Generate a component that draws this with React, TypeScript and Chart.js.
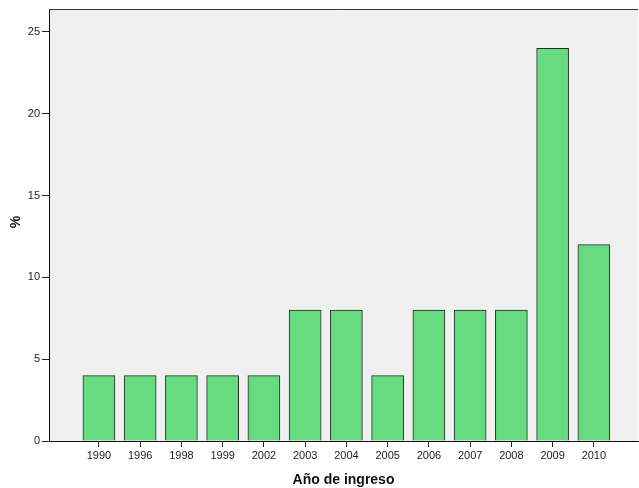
import React, { useEffect, useRef } from "react";
import { Chart, registerables } from "chart.js";

Chart.register(...registerables);

const categories = ["1990", "1996", "1998", "1999", "2002", "2003", "2004", "2005", "2006", "2007", "2008", "2009", "2010"];
const percentages = [4, 4, 4, 4, 4, 8, 8, 4, 8, 8, 8, 24, 12];
const yTicks = [0, 5, 10, 15, 20, 25];
const xTitle = "Año de ingreso";
const yTitle = "%";

const FONT = "'Liberation Sans', Arial, sans-serif";

const bgPlugin = {
  id: "plotBg",
  beforeDraw(chart: any) {
    const { ctx, chartArea } = chart;
    ctx.save();
    ctx.fillStyle = "#f0f0f0";
    ctx.fillRect(chartArea.left, chartArea.top, chartArea.right - chartArea.left, chartArea.bottom - chartArea.top);
    ctx.restore();
  },
  afterDraw(chart: any) {
    const { ctx, chartArea } = chart;
    ctx.save();
    ctx.strokeStyle = "#333";
    ctx.lineWidth = 1;
    ctx.beginPath();
    ctx.moveTo(chartArea.left, chartArea.top + 0.5);
    ctx.lineTo(chartArea.right, chartArea.top + 0.5);
    ctx.stroke();
    ctx.fillStyle = "#111";
    ctx.font = `bold 14px ${FONT}`;
    ctx.textAlign = "center";
    ctx.textBaseline = "middle";
    ctx.fillText(xTitle, (chartArea.left + chartArea.right) / 2, 480);
    ctx.translate(16, 222);
    ctx.rotate(-Math.PI / 2);
    ctx.font = `bold 14px ${FONT}`;
    ctx.fillText(yTitle, 0, 0);
    ctx.restore();
  },
};

export default function App() {
  const ref = useRef<HTMLCanvasElement | null>(null);
  useEffect(() => {
    if (!ref.current) return;
    const chart = new Chart(ref.current, {
      type: "bar",
      data: {
        datasets: [
          {
            data: percentages.map((v, i) => ({ x: i, y: v })),
            backgroundColor: "#66db80",
            borderColor: "#2a2a2a",
            borderWidth: 1,
            barThickness: 32,
          } as any,
        ],
      },
      plugins: [bgPlugin],
      options: {
        animation: false,
        responsive: false,
        maintainAspectRatio: false,
        layout: { padding: { left: 0, right: 1, top: 9, bottom: 0 } },
        plugins: { legend: { display: false }, tooltip: { enabled: false } },
        scales: {
          x: {
            type: "linear",
            offset: false,
            min: -1.21,
            max: 13.07,
            afterBuildTicks: (scale: any) => {
              scale.ticks = categories.map((_, i) => ({ value: i }));
            },
            afterFit: (scale: any) => {
              scale.height = 47;
            },
            ticks: {
              callback: (v: any) => categories[v] ?? "",
              font: { family: FONT, size: 11 },
              color: "#222",
              padding: 2,
              maxRotation: 0,
              autoSkip: false,
            },
            grid: { offset: false, drawOnChartArea: false, tickLength: 6, color: "#222" },
            border: { display: true, color: "#111", width: 1 },
          },
          y: {
            min: 0,
            max: 26.4,
            afterBuildTicks: (scale: any) => {
              scale.ticks = yTicks.map((v) => ({ value: v }));
            },
            afterFit: (scale: any) => {
              scale.width = 49;
            },
            ticks: {
              font: { family: FONT, size: 11 },
              color: "#222",
              padding: 2,
            },
            grid: { drawOnChartArea: false, tickLength: 7, color: "#222" },
            border: { display: true, color: "#111", width: 1 },
          },
        },
      } as any,
    });
    return () => chart.destroy();
  }, []);
  return (
    <div style={{ position: "fixed", left: 0, top: 0, width: 639, height: 488, background: "#fff" }}>
      <canvas ref={ref} width={639} height={488} style={{ width: 639, height: 488 }} />
    </div>
  );
}
